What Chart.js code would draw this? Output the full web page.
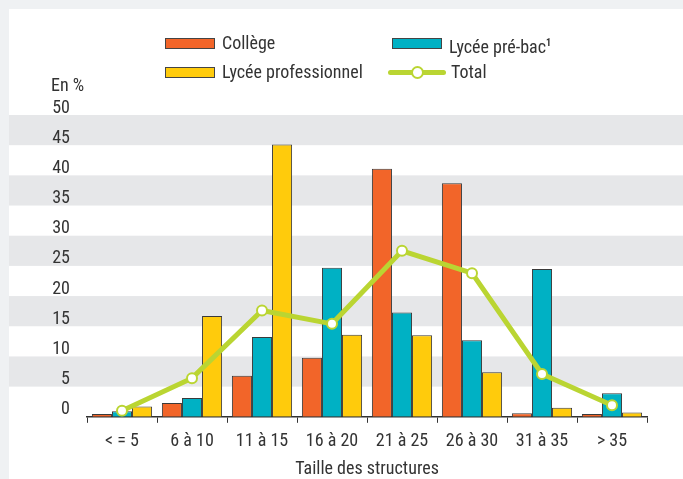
<!DOCTYPE html>
<html>
<head>
<meta charset="utf-8">
<script src="https://cdn.jsdelivr.net/npm/chart.js@4"></script>
<style>
  body { margin: 0; background: #eff1f3; font-family: 'Roboto Condensed', sans-serif; color: #333; }
  #card { position: absolute; left: 9px; top: 9px; width: 674px; height: 470px; background: #fff; }
  #chartBox { position: absolute; left: 0; top: 0; width: 674px; height: 470px; }
  .lg { position: absolute; font-size: 18px; line-height: 20px; white-space: nowrap; }
  .sw { position: absolute; width: 50px; height: 11px; border: 1px solid #444; box-sizing: border-box; }
  #unit { position: absolute; left: 42px; top: 65px; font-size: 18px; }
</style>
</head>
<body>
<div id="card">
  <div id="chartBox"><canvas id="tailleChart"></canvas></div>
  <div id="legend"></div>
  <div id="unit">En %</div>
</div>
<script>
/* ---------- data ---------- */
const categories = ['< = 5', '6 à 10', '11 à 15', '16 à 20', '21 à 25', '26 à 30', '31 à 35', '> 35'];
const college = [0.45, 2.3, 6.8, 9.8, 41.1, 38.7, 0.6, 0.45];
const lyceePreBac = [0.9, 3.1, 13.2, 24.7, 17.3, 12.7, 24.5, 3.9];
const lyceePro = [1.7, 16.7, 45.1, 13.6, 13.5, 7.4, 1.5, 0.7];
const total = [1.0, 6.4, 17.6, 15.4, 27.5, 23.8, 7.1, 1.9];
const yTicks = [0, 5, 10, 15, 20, 25, 30, 35, 40, 45, 50];

const ORANGE = '#f26529';
const TEAL = '#00b1c4';
const YELLOW = '#ffcb0c';
const GREEN = '#bad532';
const FONT = "'Roboto Condensed', sans-serif";

// grey horizontal bands behind the bars (5-10, 15-20, ...)
const bandsPlugin = {
    id: 'bands',
    beforeDraw(chart) {
        const ctx = chart.ctx;
        const y = chart.scales.y;
        ctx.save();
        ctx.fillStyle = '#e6e7e9';
        for (let v = 5; v < 50; v += 10) {
            const top = y.getPixelForValue(v + 5);
            const bot = y.getPixelForValue(v);
            ctx.fillRect(0, top, chart.width, bot - top);
        }
        ctx.restore();
    }
};

function initChart() {
    const ctx = document.getElementById('tailleChart').getContext('2d');
    const barStyle = { borderColor: '#3a3a3a', borderWidth: 1, categoryPercentage: 0.86, barPercentage: 1, order: 1 };

    new Chart(ctx, {
        type: 'bar',
        data: {
            labels: categories,
            datasets: [
                { label: 'Collège', data: college, backgroundColor: ORANGE, ...barStyle },
                { label: 'Lycée pré-bac¹', data: lyceePreBac, backgroundColor: TEAL, ...barStyle },
                { label: 'Lycée professionnel', data: lyceePro, backgroundColor: YELLOW, ...barStyle },
                {
                    type: 'line', label: 'Total', data: total, order: 0,
                    borderColor: GREEN, borderWidth: 5, tension: 0,
                    pointBackgroundColor: '#fff', pointBorderColor: GREEN,
                    pointBorderWidth: 2, pointRadius: 5
                }
            ]
        },
        options: {
            responsive: true,
            maintainAspectRatio: false,
            animation: false,
            layout: { padding: { top: 106, right: 36, bottom: 0, left: 0 } },
            plugins: { legend: { display: false }, tooltip: { enabled: false } },
            scales: {
                x: {
                    grid: { offset: true, drawOnChartArea: false, drawTicks: true, tickLength: 6, color: '#333', lineWidth: 1 },
                    border: { display: true, color: '#333', width: 1.5 },
                    ticks: { color: '#333', font: { family: FONT, size: 18 }, padding: 8 },
                    title: { display: true, text: 'Taille des structures', color: '#333', font: { family: FONT, size: 18 }, padding: { top: -2, bottom: -1 } }
                },
                y: {
                    min: 0, max: 50,
                    afterBuildTicks: s => { s.ticks = yTicks.map(v => ({ value: v })); },
                    afterFit: s => { s.width = 78; },
                    grid: { display: false, drawTicks: false },
                    border: { display: false },
                    ticks: { color: '#333', font: { family: FONT, size: 18 }, padding: 17, labelOffset: -7 }
                }
            }
        },
        plugins: [bandsPlugin]
    });
}

function buildLegend() {
    const items = [
        { text: 'Collège', color: ORANGE, x: 156, y: 24 },
        { text: 'Lycée pré-bac<sup style="font-size:10px;font-weight:bold;vertical-align:7px">1</sup>', color: TEAL, x: 383, y: 24 },
        { text: 'Lycée professionnel', color: YELLOW, x: 156, y: 53 },
        { text: 'Total', line: true, x: 379, y: 53 }
    ];
    const box = document.getElementById('legend');
    box.innerHTML = items.map(it => {
        if (it.line) {
            return `<div style="position:absolute;left:${it.x}px;top:${it.y + 8}px;width:58px;height:5px;background:${GREEN};border-radius:3px"></div>
                    <div style="position:absolute;left:${it.x + 23}px;top:${it.y + 4}px;width:9px;height:9px;border:2px solid ${GREEN};background:#fff;border-radius:50%"></div>
                    <div class="lg" style="left:${it.x + 63}px;top:${it.y}px">${it.text}</div>`;
        }
        return `<div class="sw" style="left:${it.x}px;top:${it.y + 5}px;background:${it.color}"></div>
                <div class="lg" style="left:${it.x + 57}px;top:${it.y}px">${it.text}</div>`;
    }).join('');
}

buildLegend();
initChart();
</script>
</body>
</html>
